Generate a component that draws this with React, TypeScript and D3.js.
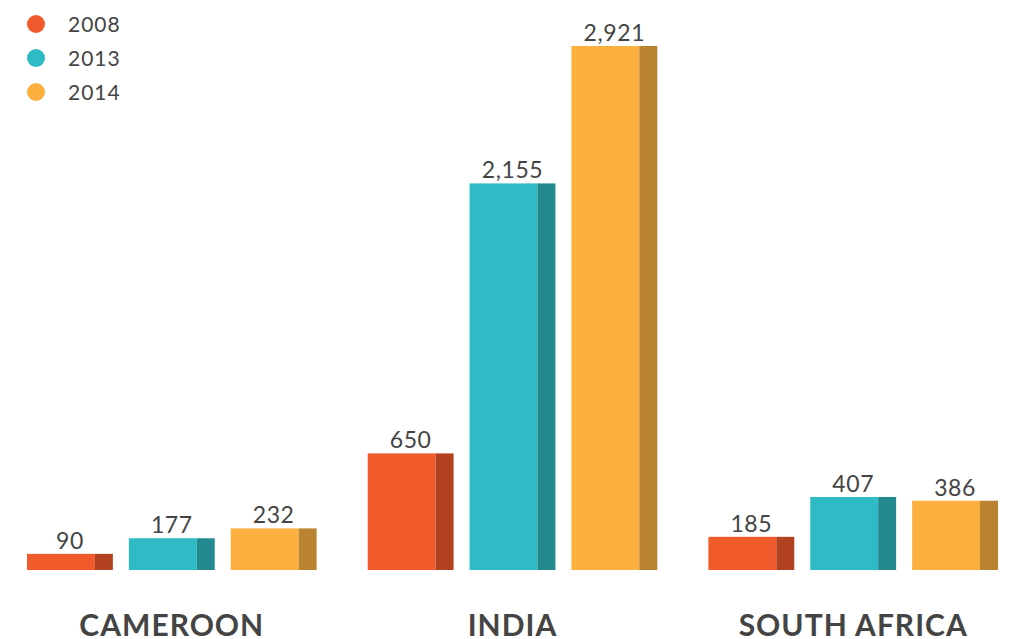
import React from "react";
import * as d3 from "d3";

const categories = ["CAMEROON", "INDIA", "SOUTH AFRICA"];
const years = ["2008", "2013", "2014"];
const values2008 = [90, 650, 185];
const values2013 = [177, 2155, 407];
const values2014 = [232, 2921, 386];
const frontColors = ["#F15A2B", "#2FBBC5", "#FBB040"];
const sideColors = ["#B2421F", "#228A8F", "#B98330"];

const W = 1018;
const H = 639;
const baseY = 570;

export default function App() {
  const series = [values2008, values2013, values2014];
  const x0 = d3.scaleBand<string>().domain(categories).range([27, 998]).paddingInner(0.15);
  const x1 = d3.scaleBand<string>().domain(years).range([0, x0.bandwidth()]).paddingInner(0.157);
  const y = d3.scaleLinear().domain([0, 2921]).range([baseY, 46]);
  const fmt = d3.format(",");
  const sideW = 18;
  const textColor = "#444444";

  return (
    <svg
      width={W}
      height={H}
      style={{ position: "absolute", left: 0, top: 0, display: "block" }}
      fontFamily="Lato, 'Open Sans', sans-serif"
    >
      <rect width={W} height={H} fill="#ffffff" />
      {categories.map((cat, ci) => (
        <g key={cat} transform={`translate(${x0(cat)},0)`}>
          {years.map((yr, yi) => {
            const v = series[yi][ci];
            const bx = x1(yr)!;
            const bw = x1.bandwidth();
            const top = y(v);
            const h = baseY - top;
            return (
              <g key={yr}>
                <rect x={bx} y={top} width={bw - sideW} height={h} fill={frontColors[yi]} />
                <rect x={bx + bw - sideW} y={top} width={sideW} height={h} fill={sideColors[yi]} />
                <text
                  x={bx + bw / 2}
                  y={top - 5}
                  textAnchor="middle"
                  fontSize={23}
                  letterSpacing={0.6}
                  fill={textColor}
                >
                  {fmt(v)}
                </text>
              </g>
            );
          })}
          <text
            x={x0.bandwidth() / 2}
            y={636}
            textAnchor="middle"
            fontSize={30}
            fontWeight="bold"
            letterSpacing={1}
            fill={textColor}
          >
            {cat}
          </text>
        </g>
      ))}
      {years.map((yr, i) => (
        <g key={yr} transform={`translate(0,${24 + i * 34})`}>
          <circle cx={36} cy={0} r={9} fill={frontColors[i]} />
          <text x={68} y={7.5} fontSize={21} letterSpacing={1} fill={textColor}>
            {yr}
          </text>
        </g>
      ))}
    </svg>
  );
}
